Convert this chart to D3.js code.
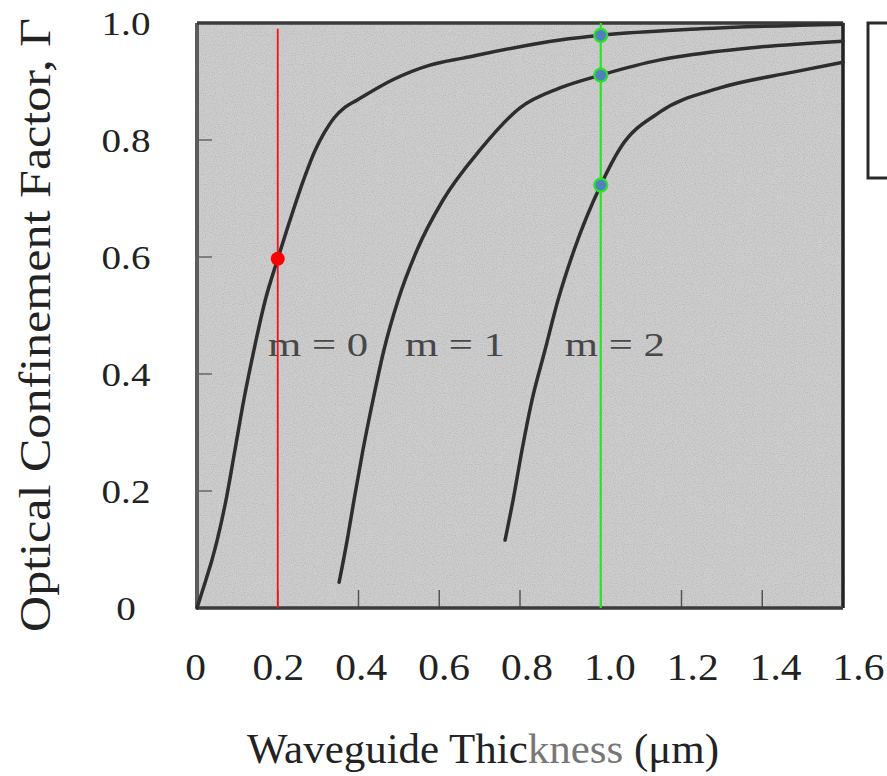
<!DOCTYPE html>
<html>
<head>
<meta charset="utf-8">
<script src="https://cdn.jsdelivr.net/npm/d3@7"></script>
<style>
  html, body { margin: 0; padding: 0; background: #fff; }
  svg { display: block; }
</style>
</head>
<body>
<svg id="chart" width="887" height="776"></svg>
<script>
// Confinement factor curves for the first three guided modes
const modeLabels = ["m = 0", "m = 1", "m = 2"];
const thickness0 = [0, 0.022, 0.037, 0.050, 0.072, 0.094, 0.116, 0.141, 0.169, 0.2, 0.228, 0.264, 0.293, 0.315, 0.340, 0.367, 0.396, 0.485, 0.577, 0.659, 0.899, 1.0, 1.246, 1.6];
const gamma0     = [0, 0.048, 0.082, 0.116, 0.185, 0.270, 0.356, 0.441, 0.526, 0.597, 0.658, 0.732, 0.783, 0.812, 0.838, 0.856, 0.868, 0.903, 0.928, 0.940, 0.971, 0.979, 0.990, 0.998];
const thickness1 = [0.352, 0.372, 0.389, 0.411, 0.436, 0.463, 0.498, 0.545, 0.609, 0.701, 0.800, 0.899, 1.0, 1.147, 1.228, 1.394, 1.6];
const gamma1     = [0.044, 0.116, 0.185, 0.270, 0.356, 0.441, 0.526, 0.612, 0.697, 0.783, 0.855, 0.889, 0.911, 0.937, 0.946, 0.959, 0.969];
const thickness2 = [0.763, 0.783, 0.805, 0.830, 0.862, 0.894, 0.934, 1.0, 1.048, 1.147, 1.295, 1.476, 1.6];
const gamma2     = [0.116, 0.185, 0.270, 0.356, 0.441, 0.526, 0.612, 0.723, 0.786, 0.848, 0.889, 0.916, 0.933];

// Marked operating points
const redThickness = 0.2;
const redGamma = 0.597;
const greenThickness = 1.0;
const greenGammas = [0.979, 0.911, 0.723];

// Axis ticks
const xTicks = [0, 0.2, 0.4, 0.6, 0.8, 1.0, 1.2, 1.4, 1.6];
const xTickLabels = ["0", "0.2", "0.4", "0.6", "0.8", "1.0", "1.2", "1.4", "1.6"];
const yTicks = [0, 0.2, 0.4, 0.6, 0.8, 1.0];
const yTickLabels = ["0", "0.2", "0.4", "0.6", "0.8", "1.0"];

const SERIF = '"Liberation Serif", "Times New Roman", Tinos, serif';

const svg = d3.select("#chart");

const plot = { left: 197, right: 843, top: 23, bottom: 608 };
const x = d3.scaleLinear().domain([0, 1.6]).range([plot.left, plot.right]);
const y = d3.scaleLinear().domain([0, 1]).range([plot.bottom, plot.top]);
// tick labels sit on a slightly wider baseline under the frame
const xLabelScale = d3.scaleLinear().domain([0, 1.6]).range([195, 858]);

// widen glyphs a little, as in the printed figure
function stretch(sel, factor) {
  sel.each(function () {
    const w = this.getComputedTextLength();
    d3.select(this).attr("textLength", w * factor).attr("lengthAdjust", "spacingAndGlyphs");
  });
}

// grainy grey plotting field
const defs = svg.append("defs");
const grain = defs.append("filter").attr("id", "grain").attr("x", 0).attr("y", 0).attr("width", 1).attr("height", 1);
grain.append("feTurbulence").attr("type", "fractalNoise").attr("baseFrequency", 0.9).attr("numOctaves", 1).attr("seed", 3).attr("result", "noise");
grain.append("feColorMatrix").attr("type", "matrix")
  .attr("values", "0 0 0 0 0.3  0 0 0 0 0.3  0 0 0 0 0.3  0 0 0 -1.5 0.85");

svg.append("rect")
  .attr("x", plot.left).attr("y", plot.top)
  .attr("width", plot.right - plot.left).attr("height", plot.bottom - plot.top)
  .attr("fill", "#cdcdcd");
svg.append("rect")
  .attr("x", plot.left).attr("y", plot.top)
  .attr("width", plot.right - plot.left).attr("height", plot.bottom - plot.top)
  .attr("filter", "url(#grain)")
  .attr("opacity", 0.6);

// small inward tick marks on the frame
svg.append("g").selectAll("line").data(yTicks.slice(1, -1)).join("line")
  .attr("x1", plot.left).attr("x2", plot.left + 15)
  .attr("y1", d => y(d)).attr("y2", d => y(d))
  .attr("stroke", "#666").attr("stroke-width", 1.5);
svg.append("g").selectAll("line").data(xTicks.slice(1, -1)).join("line")
  .attr("x1", d => x(d)).attr("x2", d => x(d))
  .attr("y1", plot.bottom).attr("y2", plot.bottom - 18)
  .attr("stroke", "#555").attr("stroke-width", 1.5);

// frame
svg.append("line").attr("x1", plot.left).attr("x2", plot.left).attr("y1", plot.top).attr("y2", plot.bottom)
  .attr("stroke", "#5c5c5c").attr("stroke-width", 4);
svg.append("line").attr("x1", plot.left).attr("x2", plot.right).attr("y1", plot.top).attr("y2", plot.top)
  .attr("stroke", "#3a3a3a").attr("stroke-width", 3.5);
svg.append("line").attr("x1", plot.right).attr("x2", plot.right).attr("y1", plot.top).attr("y2", plot.bottom)
  .attr("stroke", "#222").attr("stroke-width", 3.5);
svg.append("line").attr("x1", plot.left).attr("x2", plot.right).attr("y1", plot.bottom).attr("y2", plot.bottom)
  .attr("stroke", "#3a3a3a").attr("stroke-width", 3.5);

// mode curves
const line = d3.line().x(d => x(d[0])).y(d => y(d[1])).curve(d3.curveMonotoneX);
const series = [
  d3.zip(thickness0, gamma0),
  d3.zip(thickness1, gamma1),
  d3.zip(thickness2, gamma2)
];
svg.append("g").selectAll("path").data(series).join("path")
  .attr("d", line)
  .attr("fill", "none")
  .attr("stroke", "#2e2e2e")
  .attr("stroke-width", 3.5)
  .attr("stroke-linecap", "round");

// mode labels
const labelPos = [[0.176, 0.43], [0.515, 0.43], [0.911, 0.43]];
svg.append("g").selectAll("text").data(modeLabels).join("text")
  .attr("x", (d, i) => x(labelPos[i][0]))
  .attr("y", (d, i) => y(labelPos[i][1]))
  .attr("text-anchor", "start")
  .attr("font-size", 34)
  .attr("fill", "#474747")
  .attr("textLength", 100).attr("lengthAdjust", "spacingAndGlyphs")
  .style("font-family", SERIF)
  .text(d => d);

// vertical markers
svg.append("line")
  .attr("x1", x(redThickness)).attr("x2", x(redThickness))
  .attr("y1", y(0.99)).attr("y2", y(0))
  .attr("stroke", "#ff1010").attr("stroke-width", 1.8);
svg.append("line")
  .attr("x1", x(greenThickness)).attr("x2", x(greenThickness))
  .attr("y1", y(1)).attr("y2", y(0))
  .attr("stroke", "#2ee02e").attr("stroke-width", 2.2);

svg.append("circle")
  .attr("cx", x(redThickness)).attr("cy", y(redGamma)).attr("r", 7)
  .attr("fill", "#ff0000");
svg.append("g").selectAll("circle").data(greenGammas).join("circle")
  .attr("cx", x(greenThickness)).attr("cy", d => y(d)).attr("r", 6.5)
  .attr("fill", "#4f81bd").attr("stroke", "#2ee02e").attr("stroke-width", 2.2);

// legend box at the right edge
svg.append("rect")
  .attr("x", 868).attr("y", 23).attr("width", 40).attr("height", 155)
  .attr("fill", "#fff").attr("stroke", "#2a2a2a").attr("stroke-width", 3);

// x axis
const xAxis = d3.axisBottom(xLabelScale)
  .tickValues(xTicks)
  .tickFormat((d, i) => xTickLabels[i])
  .tickSize(0).tickPadding(0);
const gx = svg.append("g").attr("transform", "translate(0,680)").call(xAxis);
gx.select(".domain").remove();
gx.selectAll("text")
  .attr("dy", 0).attr("y", 0).attr("fill", "#222")
  .style("font-family", SERIF).style("font-size", "37px")
  .call(stretch, 1.12);

// y axis
const yAxis = d3.axisLeft(y)
  .tickValues(yTicks)
  .tickFormat((d, i) => yTickLabels[i])
  .tickSize(0).tickPadding(0);
const gy = svg.append("g").attr("transform", "translate(126,0)").call(yAxis);
gy.select(".domain").remove();
gy.selectAll("text")
  .attr("text-anchor", "middle").attr("x", 0).attr("dy", "0.35em").attr("fill", "#222")
  .style("font-family", SERIF).style("font-size", "34px")
  .call(stretch, 1.15);

// axis titles
svg.append("text")
  .attr("transform", "translate(50,325) rotate(-90)")
  .attr("text-anchor", "middle")
  .attr("font-size", 44)
  .attr("fill", "#222")
  .attr("textLength", 614).attr("lengthAdjust", "spacingAndGlyphs")
  .style("font-family", SERIF)
  .text("Optical Confinement Factor, Γ");

const xTitle = svg.append("text")
  .attr("x", 247).attr("y", 763)
  .attr("font-size", 42)
  .attr("fill", "#222")
  .attr("textLength", 472).attr("lengthAdjust", "spacingAndGlyphs")
  .style("font-family", SERIF);
xTitle.append("tspan").text("Waveguide Thic");
xTitle.append("tspan").attr("fill", "#777").text("kness");
xTitle.append("tspan").text(" (μm)");
</script>
</body>
</html>
